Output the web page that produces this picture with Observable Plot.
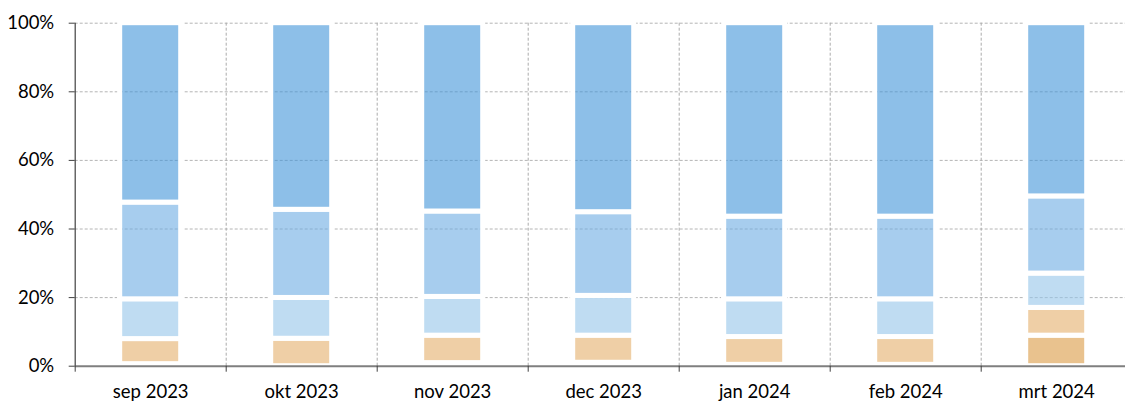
<!DOCTYPE html>
<html>
<head>
<meta charset="utf-8">
<script src="https://cdn.jsdelivr.net/npm/d3@7"></script>
<script src="https://cdn.jsdelivr.net/npm/@observablehq/plot@0.6"></script>
<style>
  html, body { margin: 0; padding: 0; background: #fff; overflow: hidden; }
</style>
</head>
<body>
<div id="chart"></div>
<script>
// Categories (x)
const months = ["sep 2023", "okt 2023", "nov 2023", "dec 2023", "jan 2024", "feb 2024", "mrt 2024"];
// Series, bottom to top
const seriesNames = ["categorie 1", "categorie 2", "categorie 3", "categorie 4", "categorie 5"];
const seriesColors = ["#DA9943", "#E4AF6B", "#94C5E9", "#6CACE3", "#4194D9"];
// Shares in percent per month
const cat1 = [0.6, 0.0, 0.9, 1.0, 0.4, 0.4, 8.9];
const cat2 = [7.3, 8.0, 8.0, 7.9, 8.1, 8.1, 8.1];
const cat3 = [11.6, 11.9, 11.3, 11.6, 11.0, 11.0, 10.0];
const cat4 = [28.2, 25.7, 24.9, 24.4, 24.1, 24.1, 22.5];
const cat5 = [52.3, 54.4, 54.9, 55.1, 56.4, 56.4, 50.5];
// Y tick labels
const yTicks = [0, 20, 40, 60, 80, 100];

const seriesValues = [cat1, cat2, cat3, cat4, cat5];
const rows = [];
months.forEach((m, i) => {
  let acc = 0;
  seriesNames.forEach((s, k) => {
    const v = seriesValues[k][i];
    rows.push({month: m, idx: i, series: s, y1: acc, y2: acc + v});
    acc += v;
  });
});

const boundaries = d3.range(0, months.length + 1);
const centers = months.map((m, i) => i + 0.5);

const plot = Plot.plot({
  width: 1125,
  height: 402,
  marginTop: 22.7,
  marginBottom: 36.3,
  marginLeft: 74.7,
  marginRight: 0,
  style: {fontFamily: "Lato, sans-serif", fontSize: "18.5px", background: "white", color: "black"},
  x: {type: "linear", domain: [0, months.length], range: [74.7, 1131.7], label: null},
  y: {domain: [0, 100], range: [365.7, 22.7], label: null},
  color: {domain: seriesNames, range: seriesColors},
  marks: [
    Plot.ruleY(yTicks.slice(1), {stroke: "#B4B4B4", strokeDasharray: "3,2"}),
    Plot.ruleX(boundaries.slice(1), {y1: 0, y2: 100, stroke: "#ABABAB", strokeDasharray: "3,2"}),
    Plot.rect(rows, {
      x1: d => d.idx, x2: d => d.idx + 1, y1: "y1", y2: "y2",
      fill: "series", fillOpacity: 0.6,
      stroke: "white", strokeWidth: 5,
      insetLeft: 45, insetRight: 45
    }),
    Plot.ruleY([0], {stroke: "#7F7F7F", strokeWidth: 2}),
    Plot.ruleX([0], {y1: 0, y2: 100, stroke: "#404040", strokeWidth: 1.2}),
    Plot.axisY({ticks: yTicks, tickSize: 6, tickPadding: 15, tickFormat: d => d + "%", stroke: "#404040", label: null}),
    Plot.axisX({ticks: boundaries, tickSize: 6, tickFormat: () => "", stroke: "#404040", label: null}),
    Plot.axisX({ticks: centers, tickSize: 0, tickPadding: 19, tickFormat: d => months[Math.floor(d)], label: null})
  ]
});
document.getElementById("chart").appendChild(plot);
</script>
</body>
</html>
